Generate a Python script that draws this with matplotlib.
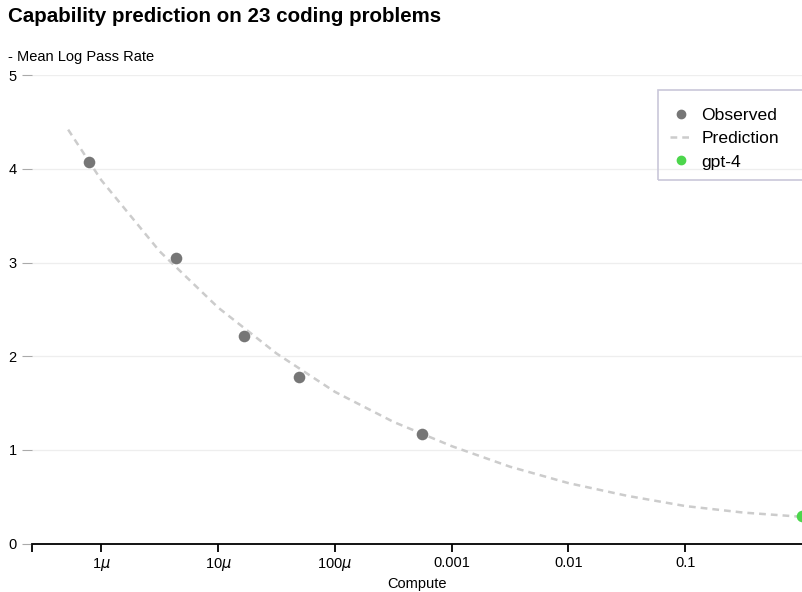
import numpy as np
import matplotlib
matplotlib.use("Agg")
import matplotlib.pyplot as plt
from matplotlib.patches import Rectangle
from matplotlib.lines import Line2D

plt.rcParams['font.family'] = ['Liberation Sans', 'DejaVu Sans']

# observed models (normalized compute, mean log pass rate)
obs_compute = [7.9e-7, 4.4e-6, 1.66e-5, 4.95e-5, 5.6e-4]
obs_value = [4.07, 3.05, 2.22, 1.775, 1.174]

# gpt-4
gpt4_compute = [1.0]
gpt4_value = [0.29]

# prediction curve
pred_compute = [5.2e-7, 1e-6, 3.16e-6, 1e-5, 3.16e-5, 1e-4, 3.16e-4, 1e-3,
                3.16e-3, 1e-2, 3.16e-2, 1e-1, 3.16e-1, 1.0]
pred_value = [4.42, 3.88, 3.12, 2.52, 2.03, 1.62, 1.30, 1.04,
              0.82, 0.645, 0.51, 0.40, 0.33, 0.285]

xtick_vals = [1e-6, 1e-5, 1e-4, 1e-3, 1e-2, 1e-1]
xtick_labels = ['1$\\mu$', '10$\\mu$', '100$\\mu$', '0.001', '0.01', '0.1']
ytick_vals = [0, 1, 2, 3, 4, 5]

W, H = 802, 592
fig = plt.figure(figsize=(W / 100, H / 100), dpi=100)
ax = fig.add_axes([32 / W, 1 - 543.5 / H, (802 - 32) / W, (543.5 - 75.3) / H])

ax.set_xscale('log')
ax.set_xlim(2.55e-7, 1.0)
ax.set_ylim(0, 5)

ax.plot(pred_compute, pred_value, color='#cccccc', lw=1.8,
        linestyle=(0, (2.7, 2.0)), zorder=2)
ax.scatter(obs_compute, obs_value, s=70, color='#767676', zorder=3, linewidths=0)
ax.scatter(gpt4_compute, gpt4_value, s=70, color='#4cd64c', zorder=3, linewidths=0)

for s in ['top', 'right', 'left']:
    ax.spines[s].set_visible(False)
ax.spines['bottom'].set_color('black')
ax.spines['bottom'].set_linewidth(1.3)

ax.set_xticks(xtick_vals + [2.55e-7])
ax.set_xticklabels(xtick_labels + [''])
ax.xaxis.set_minor_locator(matplotlib.ticker.NullLocator())
ax.tick_params(axis='x', length=6, width=1.3, color='black', labelsize=10.5, pad=3)

ax.set_yticks(ytick_vals)
ax.tick_params(axis='y', length=7, width=0.8, color='#aaaaaa', labelsize=10.5, pad=4)
ax.yaxis.grid(True, color='#eeeeee', lw=0.9)
ax.set_axisbelow(True)

ax.set_xlabel('Compute', fontsize=10.5, labelpad=3)

fig.text(8 / W, 1 - 17 / H, 'Capability prediction on 23 coding problems',
         fontsize=14.8, fontweight='bold', va='center', ha='left')
fig.text(8 / W, 1 - 57 / H, '- Mean Log Pass Rate', fontsize=10.5,
         va='center', ha='left')

# legend box
fig.patches.append(Rectangle((658 / W, 1 - 180 / H), 160 / W, 90 / H,
                             transform=fig.transFigure, fill=False,
                             edgecolor='#c9c7d9', lw=1.2))
handles = [
    Line2D([], [], marker='o', color='#767676', linestyle='none', markersize=6),
    Line2D([], [], color='#cccccc', lw=1.8, linestyle=(0, (2.7, 2.0))),
    Line2D([], [], marker='o', color='#4cd64c', linestyle='none', markersize=6),
]
fig.legend(handles, ['Observed', 'Prediction', 'gpt-4'], loc='upper left',
           bbox_to_anchor=(670 / W, 1 - 108 / H), frameon=False, fontsize=12.6,
           handlelength=1.2, handletextpad=0.6, labelspacing=0.45,
           borderpad=0, borderaxespad=0)

fig.savefig('out.png', dpi=100)
